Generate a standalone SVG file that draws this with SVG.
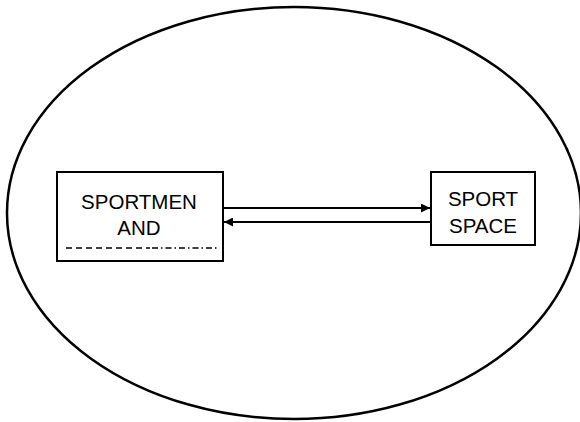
<svg xmlns="http://www.w3.org/2000/svg" width="580" height="422" viewBox="0 0 580 422">
<style>
.box{fill:#fff;stroke:#000;stroke-width:2}
.lbl{font-family:"Liberation Sans",Arial,sans-serif;font-size:20.5px;fill:#000;text-anchor:middle}
.conn{stroke:#000;stroke-width:2;fill:none}
</style>
<defs>
<marker id="ah" viewBox="0 0 10 10" refX="10" refY="5" markerWidth="10" markerHeight="9" markerUnits="userSpaceOnUse" orient="auto">
<path d="M0,0 L10,5 L0,10 Z" fill="#000"/>
</marker>
</defs>
<rect width="580" height="422" fill="#fff"/>
<ellipse id="boundary" cx="294" cy="213" rx="287" ry="206" fill="none" stroke="#000" stroke-width="2.5"/>
<g id="sportmen">
<rect class="box" x="57" y="172" width="166" height="89"/>
<text class="lbl" x="139" y="209">SPORTMEN</text>
<text class="lbl" x="139" y="235">AND</text>
<line x1="66" y1="248" x2="150" y2="248" stroke="#000" stroke-width="1.5" stroke-dasharray="6 4"/>
<line x1="152" y1="248" x2="218" y2="248" stroke="#000" stroke-width="1.5" stroke-dasharray="6 3 1.5 3"/>
</g>
<g id="sportspace">
<rect class="box" x="431" y="172" width="104" height="73"/>
<text class="lbl" x="483" y="206">SPORT</text>
<text class="lbl" x="483" y="233">SPACE</text>
</g>
<g id="connectors">
<line class="conn" x1="224" y1="208" x2="430" y2="208" marker-end="url(#ah)"/>
<line class="conn" x1="430" y1="222" x2="224" y2="222" marker-end="url(#ah)"/>
</g>
</svg>
